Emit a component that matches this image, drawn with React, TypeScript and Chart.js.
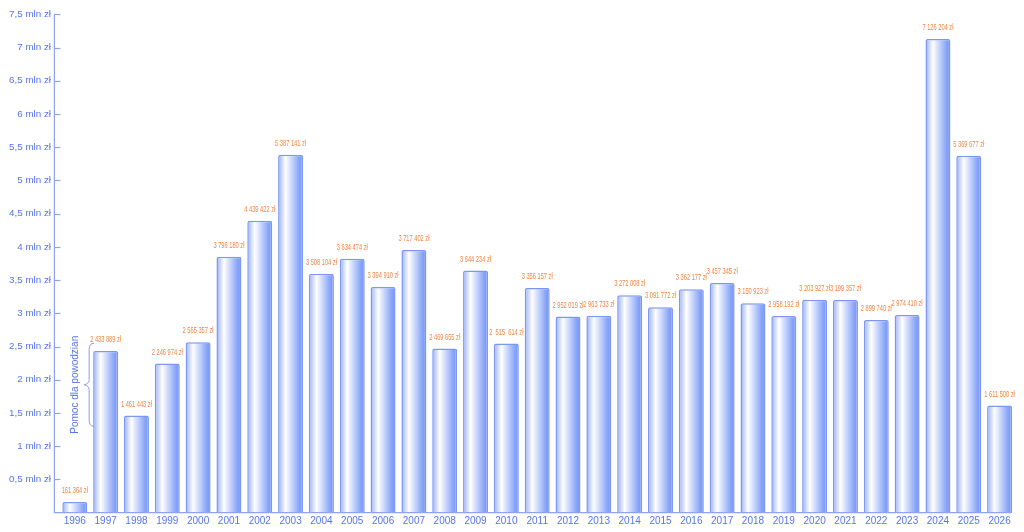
import React, { useEffect, useRef } from "react";
import { Chart, registerables } from "chart.js";

Chart.register(...registerables);

const years = [
  "1996", "1997", "1998", "1999", "2000", "2001", "2002", "2003", "2004", "2005",
  "2006", "2007", "2008", "2009", "2010", "2011", "2012", "2013", "2014", "2015",
  "2016", "2017", "2018", "2019", "2020", "2021", "2022", "2023", "2024", "2025", "2026",
];

// bar heights as drawn in the reference (zł)
const barValues = [
  161364, 2433889, 1461443, 2246974, 2565357, 3852000, 4393000, 5387141, 3597000, 3821000,
  3394910, 3954000, 2469655, 3644234, 2546000, 3383000, 2952019, 2963733, 3272008, 3091772,
  3362177, 3457345, 3150923, 2958192, 3203927, 3199357, 2899740, 2974410, 7126204, 5369677, 1611500,
];

// value labels printed above the bars
const valueLabels = [
  "161 364 zł", "2 433 889 zł", "1 461 443 zł", "2 246 974 zł", "2 565 357 zł",
  "3 796 180 zł", "4 439 422 zł", "5 387 141 zł", "3 508 104 zł", "3 634 474 zł",
  "3 394 910 zł", "3 717 402 zł", "2 469 655 zł", "3 644 234 zł", "2  515  614 zł",
  "3 356 157 zł", "2 952 019 zł", "2 963 733 zł", "3 272 008 zł", "3 091 772 zł",
  "3 362 177 zł", "3 457 345 zł", "3 150 923 zł", "2 958 192 zł", "3 203 927 zł",
  "3 199 357 zł", "2 899 740 zł", "2 974 410 zł", "7 126 204 zł", "5 369 677 zł",
  "1 611 500 zł",
];

const yMax = 7500000;
const yStep = 500000;
const annotationText = "Pomoc dla powodzian";
const braceTopValue = 2550000;
const braceBottomValue = 1300000;

const SANS = '"Liberation Sans", Arial, sans-serif';
const AXIS_TEXT = "#5674ee";
const AXIS_LINE = "#8fa3f3";
const LABEL_COLOR = "#f4843f";
const BAR_PCT = 0.81;

const decorPlugin = {
  id: "decor",
  afterDatasetsDraw(chart: any) {
    const { ctx, chartArea, scales } = chart;
    const xs = scales.x;
    const ys = scales.y;
    const axisX = chartArea.left - 5;
    ctx.save();
    // axis lines
    ctx.strokeStyle = AXIS_LINE;
    ctx.lineWidth = 1.2;
    ctx.beginPath();
    ctx.moveTo(axisX, ys.getPixelForValue(yMax));
    ctx.lineTo(axisX, chartArea.bottom);
    ctx.lineTo(chartArea.right - 3, chartArea.bottom);
    ctx.stroke();
    // inward tick marks
    ys.ticks.forEach((t: any) => {
      if (t.value === 0) return;
      const y = Math.round(ys.getPixelForValue(t.value)) + 0.5;
      ctx.beginPath();
      ctx.moveTo(axisX, y);
      ctx.lineTo(axisX + 6, y);
      ctx.stroke();
    });
    // value labels (condensed)
    const meta = chart.getDatasetMeta(0);
    ctx.fillStyle = LABEL_COLOR;
    ctx.font = `9.5px ${SANS}`;
    ctx.textAlign = "center";
    ctx.textBaseline = "middle";
    const refW = ctx.measureText("2 433 889 zł").width;
    const sx = 31 / refW;
    meta.data.forEach((bar: any, i: number) => {
      ctx.save();
      ctx.translate(bar.x, bar.y - 11.5);
      ctx.scale(sx, 1);
      ctx.fillText(valueLabels[i], 0, 0);
      ctx.restore();
    });
    // brace annotation
    const yTop = ys.getPixelForValue(braceTopValue);
    const yBot = ys.getPixelForValue(braceBottomValue);
    const yMid = (yTop + yBot) / 2;
    const bx = xs.getPixelForValue(1) - (xs.width / years.length) * BAR_PCT / 2 + 1;
    ctx.strokeStyle = "#8d9ee6";
    ctx.lineWidth = 1;
    ctx.beginPath();
    ctx.moveTo(bx, yTop);
    ctx.quadraticCurveTo(bx - 5, yTop, bx - 5, yTop + 6);
    ctx.lineTo(bx - 5, yMid - 5);
    ctx.quadraticCurveTo(bx - 5, yMid - 1, bx - 10, yMid);
    ctx.quadraticCurveTo(bx - 5, yMid + 1, bx - 5, yMid + 5);
    ctx.lineTo(bx - 5, yBot - 6);
    ctx.quadraticCurveTo(bx - 5, yBot, bx, yBot);
    ctx.stroke();
    ctx.save();
    ctx.translate(bx - 19, yMid);
    ctx.rotate(-Math.PI / 2);
    ctx.fillStyle = AXIS_TEXT;
    ctx.font = `11.5px ${SANS}`;
    ctx.textAlign = "center";
    ctx.textBaseline = "middle";
    const tw = ctx.measureText(annotationText).width;
    ctx.scale(98 / tw, 1);
    ctx.fillText(annotationText, 0, 0);
    ctx.restore();
    ctx.restore();
  },
};

function barGradient(c: any) {
  const chart = c.chart;
  const xs = chart.scales && chart.scales.x;
  if (!xs || c.type !== "data" || !isFinite(xs.width) || xs.width <= 0) return "#b5c5fa";
  const x = xs.getPixelForValue(c.dataIndex);
  const w = (xs.width / years.length) * BAR_PCT;
  const g = chart.ctx.createLinearGradient(x - w / 2, 0, x + w / 2, 0);
  g.addColorStop(0, "#98affa");
  g.addColorStop(0.3, "#ffffff");
  g.addColorStop(0.85, "#86a3f8");
  g.addColorStop(1, "#7896f6");
  return g;
}

export default function App() {
  const ref = useRef<HTMLCanvasElement | null>(null);
  useEffect(() => {
    document.body.style.margin = "0";
    const canvas = ref.current;
    if (!canvas) return;
    const chart = new Chart(canvas, {
      type: "bar",
      data: {
        labels: years,
        datasets: [
          {
            data: barValues,
            backgroundColor: barGradient,
            borderColor: "#7c97f4",
            borderWidth: 1.5,
            borderRadius: 2,
            borderSkipped: "bottom",
            categoryPercentage: 1,
            barPercentage: BAR_PCT,
          },
        ],
      },
      options: {
        animation: false,
        responsive: true,
        maintainAspectRatio: false,
        layout: { padding: { top: 14, right: 9, left: 0, bottom: 0 } },
        plugins: { legend: { display: false }, tooltip: { enabled: false } },
        scales: {
          x: {
            grid: { display: false, drawTicks: false },
            border: { display: false },
            ticks: {
              color: AXIS_TEXT,
              font: { family: SANS, size: 10 },
              padding: 3,
              maxRotation: 0,
              autoSkip: false,
            },
            afterFit: (s: any) => {
              s.height = 19.3;
            },
          },
          y: {
            min: 0,
            max: yMax,
            grid: { display: false, drawTicks: false },
            border: { display: false },
            ticks: {
              stepSize: yStep,
              color: AXIS_TEXT,
              font: { family: SANS, size: 9.8 },
              padding: 8.4,
              callback: (v: any) =>
                Number(v) === 0 ? "" : String(Number(v) / 1e6).replace(".", ",") + " mln zł",
            },
            afterFit: (s: any) => {
              s.width = 59.4;
            },
          },
        },
      },
      plugins: [decorPlugin],
    });
    return () => chart.destroy();
  }, []);
  return (
    <div style={{ width: 1024, height: 532, position: "relative", background: "#fff" }}>
      <canvas ref={ref} />
    </div>
  );
}
